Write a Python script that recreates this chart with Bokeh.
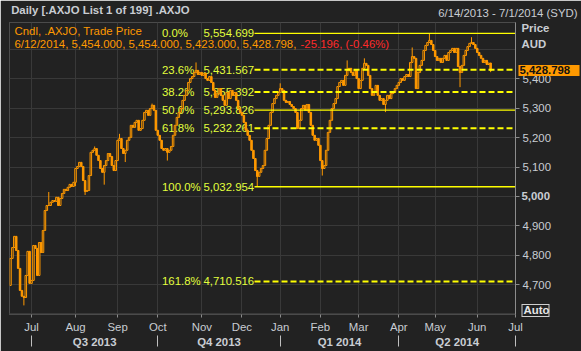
import numpy as np
import pandas as pd
from bokeh.plotting import figure
from bokeh.models import (Range1d, LinearAxis, FixedTicker, Label, ColumnDataSource,
                          NumeralTickFormatter, Grid)
from bokeh.embed import file_html
from bokeh.resources import INLINE
from bokeh.core.properties import value

# ---------------- data ----------------
holidays = ["2013-12-25", "2013-12-26", "2014-01-01", "2014-01-27",
            "2014-04-18", "2014-04-21", "2014-04-25", "2014-06-09"]

closes = [
    4789, 4826, 4864, 4816, 4755, 4680, 4660, 4656, 4731, 4813,
    4704, 4714, 4833, 4823, 4731, 4843, 4809, 4884, 4952, 4969,
    4969, 4980, 4986, 4983, 4997, 4969, 4993, 5010, 5024, 5020,
    5031, 5041, 5034, 5048, 5095, 5102, 5116, 5102, 5054, 5017,
    5020, 5071, 5150, 5157, 5163, 5140, 5122, 5095, 5082, 5105,
    5122, 5146, 5136, 5105, 5088, 5122, 5191, 5197, 5163, 5146,
    5157, 5191, 5201, 5242, 5235, 5252, 5259, 5225, 5231, 5259,
    5286, 5293, 5276, 5299, 5310, 5293, 5225, 5208, 5191, 5163,
    5157, 5163, 5150, 5157, 5170, 5208, 5242, 5269, 5286, 5299,
    5327, 5344, 5361, 5388, 5401, 5408, 5422, 5429, 5415, 5422,
    5412, 5419, 5401, 5395, 5408, 5388, 5361, 5337, 5350, 5367,
    5344, 5327, 5310, 5354, 5333, 5361, 5344, 5354, 5327, 5299,
    5286, 5276, 5252, 5225, 5208, 5191, 5157, 5129, 5088, 5068,
    5082, 5095, 5105, 5157, 5197, 5242, 5286, 5316, 5333, 5344,
    5354, 5367, 5361, 5327, 5320, 5323, 5313, 5306, 5299, 5286,
    5231, 5259, 5299, 5310, 5293, 5313, 5286, 5242, 5208, 5191,
    5197, 5174, 5122, 5095, 5105, 5157, 5218, 5259, 5299, 5316,
    5333, 5374, 5388, 5395, 5378, 5412, 5429, 5436, 5422, 5412,
    5429, 5401, 5367, 5395, 5436, 5453, 5446, 5412, 5367, 5344,
    5354, 5378, 5344, 5327, 5333, 5313, 5327, 5344, 5333, 5350,
    5354, 5367, 5378, 5388, 5401, 5395, 5408, 5415, 5408, 5456,
    5476, 5470, 5367, 5422, 5446, 5463, 5497, 5514, 5524, 5531,
    5517, 5497, 5476, 5463, 5470, 5456, 5470, 5480, 5463, 5490,
    5497, 5504, 5490, 5504, 5442, 5422, 5446, 5480, 5497, 5510,
    5521, 5524, 5517, 5504, 5490, 5480, 5470, 5456, 5463, 5449,
    5453.994, 5428.798,
]
first_open = 4697.0
last_open = 5454.0
wick_highs = {20: 5015, 44: 5170, 57: 5213, 74: 5316, 97: 5456, 141: 5385,
              176: 5463, 185: 5470, 210: 5507, 219: 5554.699, 241: 5542, 251: 5454.0}
wick_lows = {7: 4629, 34: 5035, 39: 5005, 49: 5040, 60: 5117, 82: 5122,
             129: 5032.954, 163: 5071, 196: 5287, 235: 5372, 251: 5423.0}

fib_high = 5554.699
fib_low = 5032.954
fib_ratios = [0.0, 0.236, 0.382, 0.5, 0.618, 1.0, 1.618]
fib_dashed = [False, True, True, False, True, False, True]
fib_pct_labels = ["0.0%", "23.6%", "38.2%", "50.0%", "61.8%", "100.0%", "161.8%"]

y_label_ticks = [4700, 4800, 4900, 5000, 5100, 5200, 5300, 5400]
y_grid_ticks = [4600, 4700, 4800, 4900, 5000, 5100, 5200, 5300, 5400, 5500]
quarter_labels = ["Q3 2013", "Q4 2013", "Q1 2014", "Q2 2014"]

# ---------------- derived ----------------
cal = pd.bdate_range("2013-06-14", "2014-07-01")
cal = cal[~cal.isin(pd.to_datetime(holidays))]
n = len(closes)
idx = np.arange(n)
c = np.array(closes, dtype=float)
o = np.empty(n)
o[0] = first_open
o[1:] = c[:-1]
o[-1] = last_open
hi = np.maximum(o, c)
lo = np.minimum(o, c)
for k, v in wick_highs.items():
    hi[k] = max(hi[k], v)
for k, v in wick_lows.items():
    lo[k] = min(lo[k], v)
up = c >= o

pos = pd.Series(np.arange(len(cal)), index=cal)
firsts = pos.groupby([cal.year, cal.month]).min().values[1:]
month_ticks = [int(i) for i in firsts]
month_names = {int(i): cal[int(i)].strftime("%b") for i in firsts}
q_bounds = [int(i) for i in firsts if cal[int(i)].month in (1, 4, 7, 10)]
q_mids = [(a + b) / 2 for a, b in zip(q_bounds[:-1], q_bounds[1:])]
q_overrides = {}
for m, lab_ in zip(q_mids, quarter_labels):
    q_overrides[int(m) if float(m).is_integer() else m] = lab_

# ---------------- layout helpers ----------------
W, H = 581, 351
FL, FR, FT, FB = 9, 515, 22, 314
XR0, XR1 = -0.52, 264.0
YR0, YR1 = 4598.0, 5592.0


def X(px):
    return XR0 + (px - FL) * (XR1 - XR0) / (FR - FL)


BG = "#222222"
ORANGE = "#ff9900"
YELLOW = "#ffff00"
FIBTXT = "#e2ff3c"
AXTXT = "#c9cdd3"
FONT = "Liberation Sans"
FS = "11.4px"

p = figure(width=W, height=H, x_range=Range1d(XR0, XR1), y_range=Range1d(YR0, YR1),
           output_backend="svg", toolbar_location=None,
           x_axis_location=None, y_axis_location=None,
           min_border_left=FL, min_border_right=W - FR,
           min_border_top=FT, min_border_bottom=H - FB,
           background_fill_color=BG, border_fill_color=BG,
           outline_line_color="#4b4b4b")
p.center = []
p.add_layout(Grid(dimension=0, ticker=FixedTicker(ticks=month_ticks),
                  grid_line_color="#393939"))
p.add_layout(Grid(dimension=1, ticker=FixedTicker(ticks=y_grid_ticks),
                  grid_line_color="#393939"))


def style_axis(ax, bold=False, color=AXTXT):
    ax.major_label_text_color = color
    ax.major_label_text_font = FONT
    ax.major_label_text_font_size = FS
    ax.major_label_text_font_style = "bold" if bold else "normal"
    ax.minor_tick_line_color = None


# right price axis (normal labels)
yax = LinearAxis(ticker=FixedTicker(ticks=y_label_ticks),
                 formatter=NumeralTickFormatter(format="0,0"),
                 major_label_overrides={5000: " "})
style_axis(yax)
yax.axis_line_color = "#8c8c8c"
yax.major_tick_line_color = "#8c8c8c"
yax.major_tick_out = 4
yax.major_tick_in = 0
yax.major_label_standoff = 3
p.add_layout(yax, "right")

# "Auto" button: framed box drawn with a wide major tick and a narrower minor tick
auto_tick = 4612
yax4 = LinearAxis(ticker=FixedTicker(ticks=[auto_tick], minor_ticks=[auto_tick]),
                  major_label_overrides={auto_tick: "Auto"})
style_axis(yax4, bold=True, color="#e6e6e6")
yax4.axis_line_color = None
yax4.major_tick_line_color = "#cfcfcf"
yax4.major_tick_line_width = 13
yax4.major_tick_in = 33
yax4.major_tick_out = -5
yax4.minor_tick_line_color = BG
yax4.minor_tick_line_width = 11
yax4.minor_tick_in = 32
yax4.minor_tick_out = -6
yax4.major_label_standoff = -26
p.add_layout(yax4, "right")

# right axis with bold texts: Price / AUD / 5,000
price_tick, aud_tick = 5572, 5520
yax2 = LinearAxis(ticker=FixedTicker(ticks=[price_tick, aud_tick, 5000]),
                  major_label_overrides={price_tick: "Price", aud_tick: "AUD",
                                         5000: "5,000"})
style_axis(yax2, bold=True)
yax2.axis_line_color = None
yax2.major_tick_line_color = None
yax2.major_tick_out = 0
yax2.major_tick_in = 0
yax2.major_label_standoff = -33
p.add_layout(yax2, "right")

# right axis carrying the last-price box
yax3 = LinearAxis(ticker=FixedTicker(ticks=[c[-1]]),
                  formatter=NumeralTickFormatter(format="0,0.000"))
style_axis(yax3, bold=True, color="#111111")
yax3.axis_line_color = None
yax3.major_tick_line_color = ORANGE
yax3.major_tick_line_width = 11
yax3.major_tick_in = 36
yax3.major_tick_out = 25
yax3.major_label_standoff = -60
p.add_layout(yax3, "right")

# month axis
xax = LinearAxis(ticker=FixedTicker(ticks=month_ticks), major_label_overrides=month_names)
style_axis(xax)
xax.axis_line_color = "#4b4b4b"
xax.major_tick_line_color = "#8c8c8c"
xax.major_tick_out = 3
xax.major_tick_in = 0
xax.major_label_standoff = 3
p.add_layout(xax, "below")

# quarter axis
qax = LinearAxis(ticker=FixedTicker(ticks=q_mids, minor_ticks=q_bounds),
                 major_label_overrides=q_overrides)
style_axis(qax, bold=True)
qax.axis_line_color = None
qax.major_tick_line_color = None
qax.major_tick_out = 0
qax.major_tick_in = 0
qax.minor_tick_line_color = "#c0c0c0"
qax.minor_tick_out = 11
qax.minor_tick_in = 0
qax.major_label_standoff = -11
p.add_layout(qax, "below")

# header row: two axes above the frame
hdr_right = (f"{cal[0].month}/{cal[0].day}/{cal[0].year} - "
             f"{cal[-1].month}/{cal[-1].day}/{cal[-1].year} (SYD)")
hr_tick, hl_tick = 260, 47
tax1 = LinearAxis(ticker=FixedTicker(ticks=[hr_tick]), major_label_overrides={hr_tick: hdr_right})
style_axis(tax1)
tax1.axis_line_color = None
tax1.major_tick_line_color = None
tax1.major_tick_out = 0
tax1.major_tick_in = 0
tax1.major_label_standoff = 4
p.add_layout(tax1, "above")
tax2 = LinearAxis(ticker=FixedTicker(ticks=[hl_tick]),
                  major_label_overrides={hl_tick: "Daily [.AXJO List 1 of 199] .AXJO"})
style_axis(tax2, bold=True)
tax2.axis_line_color = None
tax2.major_tick_line_color = None
tax2.major_tick_out = 0
tax2.major_tick_in = 0
tax2.major_label_standoff = -12
p.add_layout(tax2, "above")

# fibonacci labels (under candles)
fib_levels = [fib_high - r * (fib_high - fib_low) for r in fib_ratios]
fib_val_labels = [f"{v:,.3f}" for v in fib_levels]
fsrc = ColumnDataSource(dict(y=fib_levels, pct=fib_pct_labels, val=fib_val_labels,
                             xp=[X(161.5)] * len(fib_levels), xv=[X(203)] * len(fib_levels)))
p.text(x="xp", y="y", text="pct", source=fsrc, text_color=FIBTXT, text_font=value(FONT),
       text_font_size=FS, text_baseline="middle", text_align="left")
p.text(x="xv", y="y", text="val", source=fsrc, text_color=FIBTXT, text_font=value(FONT),
       text_font_size=FS, text_baseline="middle", text_align="left")

# candles
p.segment(x0=idx, y0=lo, x1=idx, y1=hi, line_color=ORANGE, line_width=1)
dn = ~up
p.vbar(x=idx[dn], width=0.8, top=o[dn], bottom=c[dn], fill_color=ORANGE,
       line_color=ORANGE, line_width=1)
p.vbar(x=idx[up], width=0.8, top=c[up], bottom=o[up], fill_color=BG,
       line_color=ORANGE, line_width=1)

# fibonacci lines (over candles)
fib_x0 = X(254)
solid = [v for v, d in zip(fib_levels, fib_dashed) if not d]
dashed = [v for v, d in zip(fib_levels, fib_dashed) if d]
p.segment(x0=[fib_x0] * len(solid), y0=solid, x1=[XR1] * len(solid), y1=solid,
          line_color=YELLOW, line_width=1.3)
p.segment(x0=[fib_x0] * len(dashed), y0=dashed, x1=[XR1] * len(dashed), y1=dashed,
          line_color=YELLOW, line_width=2, line_dash="6 3")

# legend text (inside the frame)
last_date = cal[n - 1]
chg = c[-1] - c[-2]
pct = chg / c[-2] * 100
leg1 = "Cndl, .AXJO, Trade Price"
leg2 = (f"{last_date.month}/{last_date.day}/{last_date.year}, {o[-1]:,.3f}, {hi[-1]:,.3f}, "
        f"{lo[-1]:,.3f}, {c[-1]:,.3f}, ")
leg3 = f"{chg:,.3f}, ({pct:.2f}%)"


def lab(px, py, text, color):
    lb = Label(x=px - FL, y=FB - py, x_units="screen", y_units="screen",
               text=text, text_color=color, text_font=FONT,
               text_font_size=FS, text_baseline="middle", text_align="left")
    p.add_layout(lb)


lab(14, 30, leg1, ORANGE)
lab(14, 43.5, leg2, ORANGE)
lab(300, 43.5, leg3, "#ff2a2a")

open("out.html", "w").write(file_html(p, INLINE))
